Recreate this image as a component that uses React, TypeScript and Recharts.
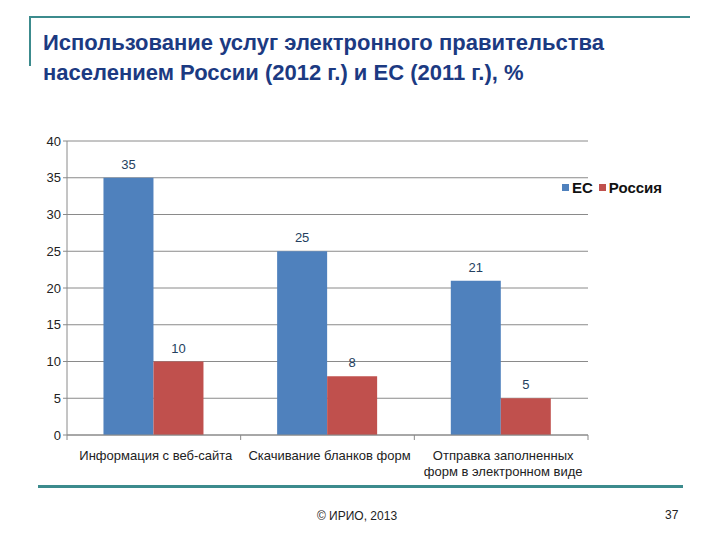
import React from 'react';
import {
  BarChart,
  Bar,
  XAxis,
  YAxis,
  CartesianGrid,
  Legend,
  LabelList,
} from 'recharts';

const categories = [
  'Информация с веб-сайта',
  'Скачивание бланков форм',
  'Отправка заполненных|форм в электронном виде',
];
const euValues = [35, 25, 21];
const russiaValues = [10, 8, 5];
const yTicks = [0, 5, 10, 15, 20, 25, 30, 35, 40];

const data = categories.map((name, i) => ({
  name,
  eu: euValues[i],
  ru: russiaValues[i],
}));

const chartFont = '"Liberation Sans", Arial, sans-serif';
const teal = '#3c8b8d';

function CategoryTick(props: any) {
  const { x, y, payload, index } = props;
  const half = payload && payload.offset ? payload.offset : 87;
  const lines = String(payload.value).split('|');
  return (
    <g>
      <line x1={x + half} y1={y - 8} x2={x + half} y2={y - 3} stroke="#8a8a8a" />
      {index === 0 && (
        <line x1={x - half} y1={y - 8} x2={x - half} y2={y - 3} stroke="#8a8a8a" />
      )}
      <text
        x={x + 2}
        y={y + 17}
        textAnchor="middle"
        fontSize={13}
        fill="#222"
        fontFamily={chartFont}
      >
        {lines.map((l, i) => (
          <tspan key={i} x={x + 2} dy={i === 0 ? 0 : 16}>
            {l}
          </tspan>
        ))}
      </text>
    </g>
  );
}

function LegendBox(props: any) {
  const { payload } = props;
  return (
    <div style={{ display: 'flex', alignItems: 'center', fontFamily: chartFont }}>
      {(payload || []).map((item: any) => (
        <div
          key={item.value}
          style={{ display: 'flex', alignItems: 'center', marginRight: 6 }}
        >
          <span
            style={{
              display: 'inline-block',
              width: 7,
              height: 7,
              background: item.color,
              marginRight: 3,
            }}
          />
          <span style={{ fontSize: 15, fontWeight: 'bold', color: '#111' }}>
            {item.value}
          </span>
        </div>
      ))}
    </div>
  );
}

export default function App() {
  return (
    <div
      style={{
        position: 'absolute',
        left: 0,
        top: 0,
        width: 720,
        height: 540,
        background: '#fff',
        fontFamily: chartFont,
      }}
    >
      {/* header frame */}
      <div style={{ position: 'absolute', left: 29, top: 16, width: 661, height: 2, background: teal }} />
      <div style={{ position: 'absolute', left: 29, top: 16, width: 2, height: 50, background: teal }} />
      <div
        style={{
          position: 'absolute',
          left: 43,
          top: 28,
          fontSize: 22,
          lineHeight: '30px',
          fontWeight: 'bold',
          color: '#1c3a82',
          whiteSpace: 'nowrap',
        }}
      >
        Использование услуг электронного правительства
        <br />
        населением России (2012 г.) и ЕС (2011 г.), %
      </div>

      <div style={{ position: 'absolute', left: 0, top: 0 }}>
        <BarChart
          width={720}
          height={540}
          data={data}
          margin={{ top: 141, right: 132, bottom: 48, left: 7 }}
          barCategoryGap="21%"
          barGap={0}
        >
          <CartesianGrid vertical={false} stroke="#8a8a8a" />
          <XAxis
            dataKey="name"
            height={40}
            stroke="#8a8a8a"
            tickLine={false}
            tick={<CategoryTick />}
            interval={0}
          />
          <YAxis
            width={60}
            domain={[0, 40]}
            ticks={yTicks}
            stroke="#8a8a8a"
            tickSize={4}
            tick={{ fontSize: 13, fill: '#222', fontFamily: chartFont }}
          />
          <Legend
            content={<LegendBox />}
            wrapperStyle={{ position: 'absolute', left: 562, top: 179, width: 140 }}
          />
          <Bar dataKey="eu" name="ЕС" fill="#4f81bd" isAnimationActive={false}>
            <LabelList
              dataKey="eu"
              position="top"
              offset={9}
              fontSize={13}
              fill="#243f60"
              fontFamily={chartFont}
            />
          </Bar>
          <Bar dataKey="ru" name="Россия" fill="#c0504d" isAnimationActive={false}>
            <LabelList
              dataKey="ru"
              position="top"
              offset={9}
              fontSize={13}
              fill="#243f60"
              fontFamily={chartFont}
            />
          </Bar>
        </BarChart>
      </div>

      {/* footer */}
      <div style={{ position: 'absolute', left: 38, top: 485, width: 645, height: 3, background: teal }} />
      <div
        style={{
          position: 'absolute',
          left: 307,
          top: 509,
          width: 100,
          textAlign: 'center',
          fontSize: 12,
          color: '#222',
        }}
      >
        © ИРИО, 2013
      </div>
      <div style={{ position: 'absolute', left: 665, top: 508, fontSize: 12, color: '#222' }}>
        37
      </div>
    </div>
  );
}
